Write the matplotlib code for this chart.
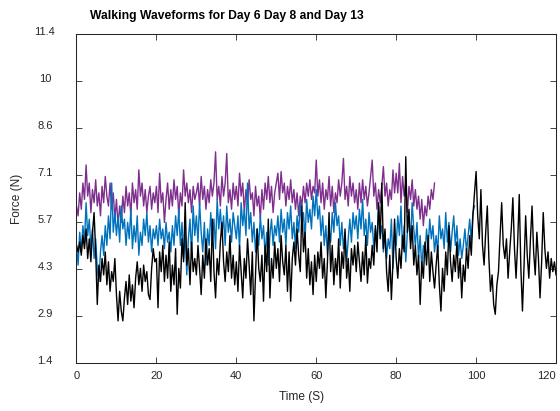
import numpy as np
import matplotlib
matplotlib.use('Agg')
import matplotlib.pyplot as plt
from matplotlib.transforms import ScaledTranslation

plt.rcParams['font.family'] = ['Liberation Sans', 'DejaVu Sans']

dt = 0.4  # sample spacing (s)

# Day 6 force samples (N)
day6 = [
    6.2, 5.9, 6.6, 6.1, 6.9, 6.4, 7.45, 6.5, 6.9, 6.0, 6.7, 6.3, 7.0, 6.2, 6.6, 5.9, 6.8, 6.3, 7.1, 6.5, 6.2, 6.9, 6.1, 6.6, 5.8,
    6.4, 5.6, 6.2, 5.7, 6.5, 6.0, 6.8, 6.2, 6.6, 5.9, 6.9, 6.3, 6.7, 6.1, 7.3, 6.5, 6.9, 6.2, 6.7, 6.0, 6.5, 6.8, 6.1, 6.6, 6.3,
    6.8, 6.0, 7.2, 6.3, 6.6, 5.7, 6.4, 6.9, 6.1, 6.7, 6.2, 7.0, 6.4, 6.8, 5.9, 6.6, 6.2, 7.3, 6.5, 6.9, 6.3, 6.7, 6.0, 6.8, 6.4,
    6.6, 6.9, 6.2, 7.1, 6.4, 6.8, 6.1, 6.7, 6.3, 7.0, 6.5, 6.9, 7.85, 6.4, 6.8, 6.2, 7.1, 6.5, 6.9, 7.8, 6.3, 6.7, 6.1, 6.9, 6.4,
    6.8, 6.2, 7.2, 6.5, 6.9, 6.0, 6.7, 6.3, 7.0, 6.4, 6.6, 5.9, 6.8, 6.2, 6.5, 5.8, 6.7, 6.1, 6.9, 6.4, 7.1, 6.3, 6.8, 6.0, 6.6,
    6.9, 7.2, 6.4, 7.25, 6.6, 6.9, 6.2, 6.8, 6.4, 7.0, 6.3, 6.7, 6.1, 6.6, 5.9, 6.5, 6.2, 6.8, 6.3, 6.9, 6.5, 7.0, 6.4, 6.8, 6.6,
    7.6, 6.5, 7.0, 6.3, 6.9, 6.1, 6.7, 6.4, 7.1, 6.2, 6.8, 6.0, 6.6, 6.3, 7.0, 6.5, 6.9, 7.65, 6.4, 6.8, 6.2, 7.1, 6.5, 6.9, 6.3,
    6.7, 6.1, 6.9, 6.3, 7.0, 6.4, 6.8, 6.2, 6.6, 7.1, 7.6, 6.5, 6.9, 6.1, 6.7, 6.3, 6.8, 7.4, 6.5, 6.9, 6.2, 6.7, 6.4, 7.3, 6.6,
    7.2, 6.6, 7.5, 6.3, 7.1, 6.5, 6.9, 6.0, 6.8, 6.4, 7.0, 6.2, 6.7, 6.1, 6.5, 5.8, 6.4, 5.6, 6.2, 5.9, 6.5, 6.1, 6.7, 6.4, 6.9,
]

# Day 8 force samples (N)
day8 = [
    5.0, 4.4, 5.4, 4.8, 5.6, 5.1, 6.3, 5.3, 5.8, 4.9, 5.5, 4.6, 5.2, 4.3, 3.9, 4.8, 5.3, 4.7, 5.6, 5.0, 5.9, 5.2, 6.9, 5.4, 6.0,
    5.3, 5.9, 5.1, 6.2, 5.5, 5.8, 5.0, 5.7, 5.2, 6.1, 4.9, 5.6, 5.1, 5.9, 4.7, 5.4, 5.0, 5.8, 5.3, 6.0, 5.1, 5.6, 4.8, 5.5, 5.2,
    5.6, 5.0, 5.8, 5.2, 5.5, 4.9, 5.7, 5.1, 5.4, 4.8, 5.6, 5.0, 5.9, 5.3, 6.1, 5.0, 5.7, 4.6, 5.4, 4.1, 5.2, 5.8, 4.7, 6.2, 5.3,
    5.9, 5.1, 6.3, 5.4, 4.8, 5.7, 4.4, 5.5, 5.0, 6.0, 5.2, 5.8, 4.9, 6.4, 5.5, 6.1, 5.3, 5.9, 5.0, 6.2, 5.4, 5.8, 5.1, 6.0, 5.6,
    5.2, 5.9, 4.9, 6.3, 5.6, 6.1, 5.3, 6.9, 5.5, 6.0, 5.1, 5.7, 4.8, 5.5, 5.0, 5.9, 5.2, 5.6, 4.7, 5.4, 4.4, 5.3, 5.8, 5.0, 5.6,
    5.3, 5.9, 5.1, 6.1, 5.4, 5.8, 5.0, 6.0, 5.5, 6.2, 5.2, 5.7, 4.9, 5.9, 5.4, 6.3, 5.6, 6.0, 5.2, 6.4, 5.7, 6.1, 5.5, 6.5, 5.9,
    6.7, 5.8, 6.2, 5.3, 5.9, 5.0, 5.6, 4.7, 5.5, 5.1, 6.0, 5.4, 6.3, 5.6, 5.9, 5.0, 5.7, 4.9, 5.4, 4.5, 5.2, 5.8, 5.1, 6.0, 5.5,
    5.9, 5.2, 6.1, 5.5, 6.4, 5.3, 5.8, 5.0, 6.0, 5.4, 5.7, 4.9, 5.5, 5.1, 6.2, 5.3, 5.6, 4.8, 5.4, 4.6, 5.2, 4.9, 5.8, 4.3, 5.3,
    5.0, 5.9, 5.3, 6.2, 4.9, 5.6, 4.5, 5.4, 5.8, 5.1, 6.3, 5.5, 5.0, 5.7, 4.6, 5.3, 4.3, 5.0, 4.7, 5.5, 4.9, 5.8, 5.2, 5.6, 4.8,
    5.3, 4.8, 5.9, 5.2, 5.5, 4.9, 6.0, 5.1, 5.7, 4.8, 5.4, 5.9, 5.0, 5.6, 4.7, 5.2, 4.6, 5.0, 5.5, 4.8, 5.3, 5.8, 5.1, 6.0, 6.2,
]

# Day 13 force samples (N)
day13 = [
    5.0, 4.8, 5.1, 4.7, 5.3, 4.9, 5.5, 4.6, 5.2, 4.5, 5.4, 6.0, 4.8, 3.2, 4.4, 3.9, 4.6, 4.1, 4.8, 3.8, 4.5, 3.6, 4.2, 3.9, 4.6,
    3.5, 2.7, 3.6, 3.0, 2.7, 3.4, 3.9, 3.2, 4.1, 3.3, 3.8, 3.1, 4.0, 4.5, 3.8, 4.3, 3.6, 4.4, 3.9, 4.2, 3.5, 3.35, 4.3, 4.9, 4.5,
    4.6, 3.1, 4.8, 4.2, 5.0, 3.9, 4.7, 4.0, 5.1, 3.6, 4.4, 3.8, 4.9, 2.9, 4.3, 3.7, 5.2, 4.5, 6.3, 4.4, 4.9, 3.8, 5.1, 4.2, 4.6,
    4.1, 5.0, 4.3, 3.5, 4.7, 4.0, 5.2, 4.4, 4.9, 3.9, 5.8, 4.2, 3.4, 4.6, 4.1, 5.1, 5.7, 4.5, 3.9, 4.8, 4.2, 5.3, 4.0, 4.7, 3.8,
    4.5, 3.6, 5.0, 4.2, 3.4, 4.6, 4.0, 5.2, 4.4, 3.5, 4.8, 2.7, 4.1, 5.5, 4.3, 3.9, 4.7, 3.3, 5.0, 4.2, 5.8, 3.4, 4.6, 4.0, 5.1,
    4.3, 4.9, 3.9, 5.3, 4.5, 4.1, 5.0, 3.6, 4.8, 3.3, 4.6, 5.1, 4.4, 5.5, 4.7, 4.2, 6.2, 4.8, 5.4, 4.0, 4.9, 3.8, 4.5, 3.5, 4.7,
    3.9, 4.8, 4.3, 5.1, 4.0, 4.6, 3.4, 4.5, 6.0, 4.2, 5.0, 3.8, 4.6, 4.1, 5.2, 3.7, 4.8, 4.3, 5.5, 4.0, 4.6, 3.6, 4.9, 4.4, 5.0,
    4.2, 5.1, 4.5, 3.9, 4.8, 4.1, 5.3, 3.85, 4.6, 4.3, 5.0, 4.4, 5.6, 4.8, 6.3, 5.2, 6.9, 4.9, 5.5, 4.2, 3.6, 4.7, 3.35, 4.5, 5.8,
    4.6, 4.0, 4.9, 4.3, 5.3, 4.8, 7.7, 5.4, 6.1, 4.9, 5.6, 4.4, 5.0, 4.1, 4.7, 3.2, 4.5, 4.0, 5.1, 4.4, 5.3, 3.9, 4.8, 4.2, 3.7,
    4.4, 5.0, 3.8, 3.0, 4.3, 3.6, 4.8, 4.1, 5.6, 4.5, 3.9, 4.7, 4.2, 5.1, 4.0, 4.6, 3.4, 4.4, 3.9, 4.9, 4.3, 5.3, 4.7, 5.9, 6.6,
    7.25, 5.9, 5.2, 6.7, 5.0, 4.4, 5.4, 6.2, 4.6, 3.6, 4.1, 3.2, 2.9, 3.8, 4.2, 5.3, 6.3, 5.0, 4.6, 5.2, 4.0, 4.8, 5.5, 6.45, 4.9,
    4.0, 5.1, 6.55, 4.3, 3.0, 4.4, 5.9, 4.7, 4.0, 5.2, 6.2, 4.8, 4.1, 5.4, 4.6, 3.4, 4.5, 6.0, 4.9, 4.3, 4.8, 4.0, 4.6, 4.2, 4.5,
    4.1,
]

yticks = [k * 10 / 7 for k in range(1, 9)]
ytick_labels = ['1.4', '2.9', '4.3', '5.7', '7.1', '8.6', '10', '11.4']
xticks = [0, 20, 40, 60, 80, 100, 120]

axcol = '#262626'

fig = plt.figure(figsize=(5.6, 4.11), dpi=100)
ax = fig.add_axes([0.1366, 0.1178, 0.8563, 0.7985])

for vals, col in [(day6, '#7E2F8E'), (day8, '#0072BD'), (day13, '#000000')]:
    t = np.arange(len(vals)) * dt
    ax.plot(t, vals, color=col, lw=1.0)

ax.set_xlim(0, 120)
ax.set_ylim(yticks[0], yticks[-1])
ax.set_xticks(xticks)
ax.set_yticks(yticks)
ax.set_yticklabels(ytick_labels)

ax.tick_params(direction='in', length=4.5, width=0.6, top=True, right=True,
               color=axcol, labelcolor=axcol, labelsize=8)
ax.tick_params(axis='x', pad=6)
ax.tick_params(axis='y', pad=22.7)
for lab in ax.get_yticklabels():
    lab.set_horizontalalignment('center')
ax.get_xticklabels()[-1].set_horizontalalignment('right')

# y labels sit a little above their ticks
lift = ScaledTranslation(0, 0.03, fig.dpi_scale_trans)
for tick in ax.yaxis.get_major_ticks():
    tick.label1.set_transform(tick.label1.get_transform() + lift)

for sp in ax.spines.values():
    sp.set_color(axcol)
    sp.set_linewidth(0.75)

ax.set_xlabel('Time (S)', fontsize=8.6, color=axcol)
ax.xaxis.set_label_coords(0.47, -0.105)
ax.xaxis.label.set_va('center')
ax.set_ylabel('Force (N)', fontsize=8.6, color=axcol)
ax.yaxis.set_label_coords(-0.125, 0.5)
ax.yaxis.label.set_va('center')

fig.text(90 / 560, 1 - 16 / 411, 'Walking Waveforms for Day 6 Day 8 and Day 13',
         ha='left', va='center', fontsize=8.7, fontweight='bold', color='#000000')

fig.savefig('out.png', dpi=100)
